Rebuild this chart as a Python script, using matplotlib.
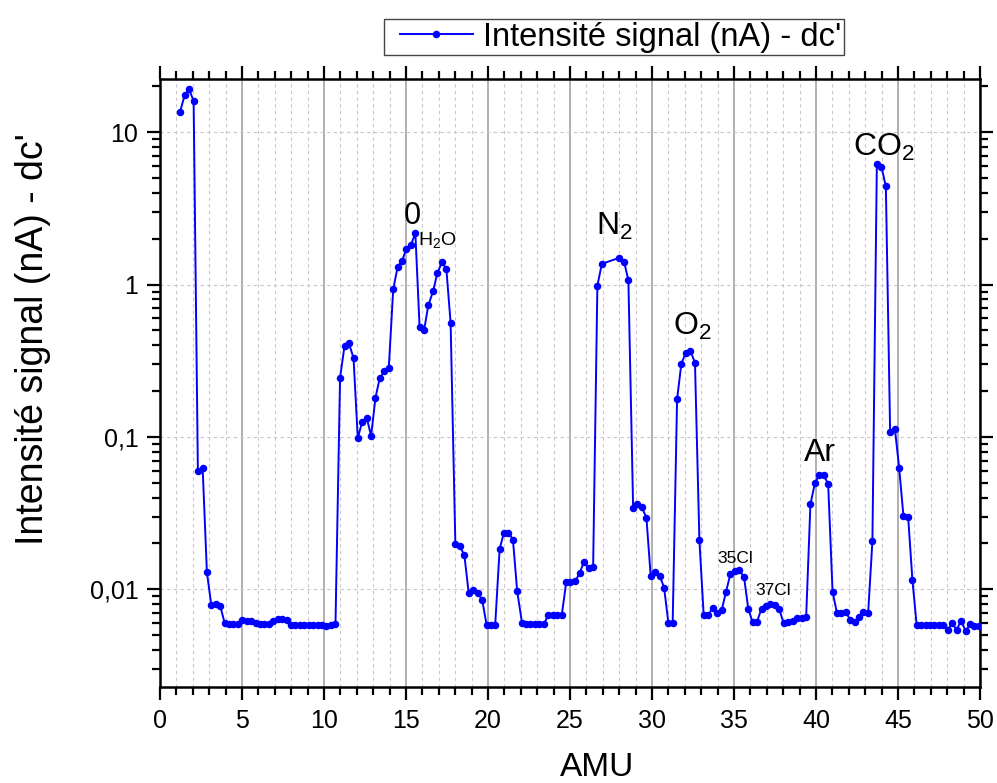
import matplotlib
matplotlib.use('Agg')
import matplotlib.pyplot as plt
from matplotlib.ticker import MultipleLocator, LogLocator, NullFormatter
from matplotlib.legend_handler import HandlerLine2D

plt.rcParams['font.family'] = ['Liberation Sans', 'DejaVu Sans']
plt.rcParams['mathtext.fontset'] = 'custom'
plt.rcParams['mathtext.rm'] = 'Liberation Sans'
plt.rcParams['mathtext.it'] = 'Liberation Sans:italic'
plt.rcParams['mathtext.bf'] = 'Liberation Sans:bold'
plt.rcParams['mathtext.default'] = 'regular'

# ---------------- data ----------------
amu = [1.22, 1.50, 1.77, 2.05, 2.31, 2.60, 2.86, 3.13, 3.41, 3.67,
       3.94, 4.20, 4.47, 4.73, 5.01, 5.28, 5.54, 5.83, 6.09, 6.35,
       6.64, 6.90, 7.17, 7.45, 7.72, 8.00, 8.26, 8.53, 8.81, 9.07,
       9.34, 9.62, 9.88, 10.15, 10.43, 10.70, 10.98, 11.25, 11.51, 11.80,
       12.06, 12.32, 12.61, 12.87, 13.14, 13.40, 13.68, 13.95, 14.22, 14.49,
       14.76, 15.02, 15.29, 15.57, 15.83, 16.10, 16.36, 16.65, 16.91, 17.19,
       17.46, 17.72, 18.01, 18.27, 18.56, 18.82, 19.11, 19.37, 19.65, 19.91,
       20.18, 20.44, 20.71, 20.97, 21.25, 21.52, 21.78, 22.07, 22.33, 22.59,
       22.86, 23.14, 23.41, 23.67, 23.95, 24.22, 24.50, 24.77, 25.03, 25.32,
       25.58, 25.84, 26.13, 26.41, 26.67, 26.94, 28.01, 28.30, 28.56, 28.85,
       29.11, 29.37, 29.66, 29.92, 30.19, 30.47, 30.74, 31.00, 31.26, 31.53,
       31.79, 32.05, 32.34, 32.62, 32.89, 33.15, 33.44, 33.70, 33.97, 34.25,
       34.51, 34.78, 35.05, 35.32, 35.61, 35.87, 36.13, 36.40, 36.68, 36.95,
       37.21, 37.50, 37.76, 38.02, 38.29, 38.57, 38.84, 39.12, 39.40, 39.66,
       39.93, 40.19, 40.46, 40.74, 41.01, 41.27, 41.53, 41.82, 42.08, 42.35,
       42.63, 42.89, 43.18, 43.44, 43.71, 43.99, 44.26, 44.52, 44.81, 45.07,
       45.33, 45.62, 45.88, 46.14, 46.41, 46.69, 46.95, 47.21, 47.50, 47.77,
       48.03, 48.31, 48.57, 48.84, 49.13, 49.39, 49.66, 49.94]

signal = [13.6, 17.5, 19.2, 16.1, 0.0597, 0.0625, 0.0129, 0.00785, 0.00805, 0.0078,
          0.0060, 0.0059, 0.0059, 0.0059, 0.00625, 0.0062, 0.0062, 0.0060, 0.0059, 0.0059,
          0.0059, 0.0062, 0.0064, 0.0064, 0.0063, 0.0058, 0.0058, 0.0058, 0.0058, 0.0058,
          0.0058, 0.00583, 0.0058, 0.00575, 0.00583, 0.0059, 0.245, 0.395, 0.413, 0.331,
          0.098, 0.125, 0.133, 0.1016, 0.181, 0.244, 0.269, 0.284, 0.93, 1.31,
          1.43, 1.72, 1.81, 2.18, 0.524, 0.501, 0.731, 0.904, 1.19, 1.40,
          1.27, 0.562, 0.0197, 0.0193, 0.0167, 0.0095, 0.00995, 0.0095, 0.00847, 0.00586,
          0.00586, 0.00586, 0.0184, 0.0235, 0.0235, 0.0212, 0.0097, 0.00604, 0.0059, 0.0059,
          0.0059, 0.0059, 0.0059, 0.00678, 0.00678, 0.00678, 0.00678, 0.0111, 0.0111, 0.0113,
          0.0127, 0.0150, 0.0138, 0.0139, 0.985, 1.37, 1.50, 1.41, 1.07, 0.034,
          0.0361, 0.0347, 0.0295, 0.01224, 0.0129, 0.0123, 0.0102, 0.0060, 0.0060, 0.177,
          0.303, 0.355, 0.368, 0.307, 0.021, 0.00678, 0.00678, 0.00757, 0.0070, 0.00728,
          0.0096, 0.01256, 0.0131, 0.0133, 0.01205, 0.00746, 0.0061, 0.0061, 0.00746, 0.0078,
          0.0080, 0.0079, 0.0074, 0.0060, 0.0061, 0.0062, 0.0065, 0.0065, 0.0066, 0.0361,
          0.0496, 0.056, 0.056, 0.0493, 0.00965, 0.00703, 0.00703, 0.0071, 0.0063, 0.0061,
          0.00655, 0.0071, 0.0070, 0.0207, 6.16, 5.95, 4.41, 0.108, 0.113, 0.0628,
          0.0304, 0.0296, 0.01146, 0.0058, 0.0058, 0.0058, 0.0058, 0.0058, 0.0058, 0.0058,
          0.0054, 0.0060, 0.0054, 0.0062, 0.0053, 0.0059, 0.0057, 0.0057]

series_label = "Intensité signal (nA) - dc'"
x_label = "AMU"
y_label = "Intensité signal (nA) - dc'"
y_ticks = [0.01, 0.1, 1, 10]
y_tick_labels = ['0,01', '0,1', '1', '10']
peak_labels = ['0', 'H$_2$O', 'N$_2$', 'O$_2$', '35Cl', '37Cl', 'Ar', 'CO$_2$']

# ---------------- figure ----------------
W, H = 997, 783
fig = plt.figure(figsize=(W / 100, H / 100), dpi=100)
ax = fig.add_axes([160 / W, 1 - 687 / H, 820 / W, 608 / H])
ax.set_yscale('log')
ax.set_xlim(0, 50)
ax.set_ylim(0.00228, 22.4)

line, = ax.plot(amu, signal, color='#0000ff', lw=1.4, marker='o', ms=4.4,
                label=series_label, zorder=3)

ax.xaxis.set_major_locator(MultipleLocator(5))
ax.xaxis.set_minor_locator(MultipleLocator(1))
ax.set_yticks(y_ticks, labels=y_tick_labels)
ax.yaxis.set_minor_locator(LogLocator(base=10, subs=range(2, 10), numticks=30))
ax.yaxis.set_minor_formatter(NullFormatter())

ax.grid(which='major', axis='x', color='#b0b0b0', lw=1.4, ls='-')
ax.grid(which='minor', axis='x', color='#c8c8c8', lw=0.8, ls=(0, (3, 3)))
ax.grid(which='major', axis='y', color='#c8c8c8', lw=0.8, ls=(0, (3, 3)))
ax.set_axisbelow(True)

ax.tick_params(which='both', direction='out', top=True, right=True,
               width=1.6, colors='black')
ax.tick_params(which='major', length=9.5, labelsize=18, pad=6)
ax.tick_params(which='minor', length=5.5)
for s in ax.spines.values():
    s.set_linewidth(1.8)

# axis labels
fig.text(33 / W, 1 - 339 / H, y_label, rotation=90, ha='center', va='center',
         fontsize=27)
fig.text(597 / W, 1 - 768 / H, x_label, ha='center', va='center', fontsize=24)

# peak annotations (left, baseline)
pos = [(14.88, 2.50, 22), (15.73, 1.82, 14), (26.59, 2.12, 23), (31.26, 0.467, 23),
       (33.96, 0.0149, 12.5), (36.28, 0.00913, 12.5), (39.27, 0.0697, 23),
       (42.24, 7.0, 23)]
for txt, (px, py, fs) in zip(peak_labels, pos):
    ax.text(px, py, txt, ha='left', va='baseline', fontsize=fs, zorder=4)

leg_fs = 23.5
leg_fs_px = leg_fs * 100 / 72
leg = ax.legend(loc='upper left', bbox_to_anchor=(384 / W, 1 - 19 / H),
                bbox_transform=fig.transFigure, fontsize=leg_fs, frameon=True,
                fancybox=False, edgecolor='#444444', framealpha=1,
                handlelength=86 / leg_fs_px, handletextpad=10 / leg_fs_px,
                borderpad=0.08, borderaxespad=0,
                handler_map={line: HandlerLine2D(xpad=13 / leg_fs_px)})
leg.get_frame().set_linewidth(1.0)

fig.savefig('out.png', dpi=100)
